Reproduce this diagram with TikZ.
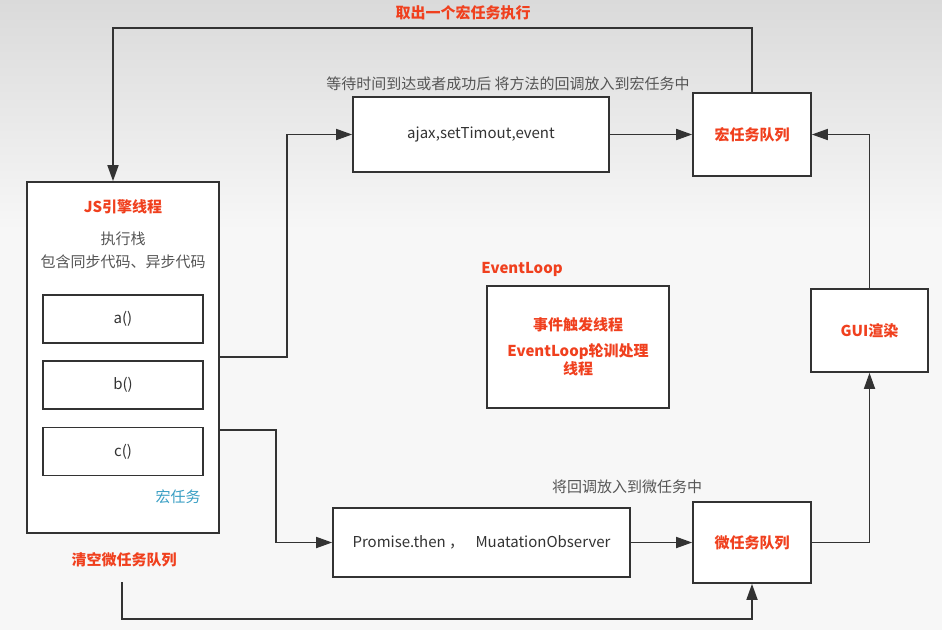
\documentclass[tikz,border=0pt]{standalone}
\usepackage{fontspec}
\usepackage{tikz}
\usetikzlibrary{arrows.meta}
\usepackage{xcolor}
\newfontfamily\cjk{Noto Sans CJK SC}

\definecolor{linegray}{HTML}{333333}
\definecolor{textgray}{HTML}{555555}
\definecolor{hotred}{HTML}{F0401E}
\definecolor{tealblue}{HTML}{3A9FC4}

\begin{document}
\begin{tikzpicture}[x=1pt, y=-1pt]
        % ================= 样式定义 =================
        \tikzset{
            every node/.style={font=\cjk\fontsize{15pt}{18pt}\selectfont},
            % 方框
            box/.style={rectangle, draw=linegray, line width=1.7pt, fill=white, inner sep=0pt, text=linegray},
            % 红色标题文字
            redtxt/.style={text=hotred, font=\cjk\bfseries\fontsize{15pt}{18pt}\selectfont},
            % 灰色说明文字
            graytxt/.style={text=textgray},
            % 连线
            conn/.style={line width=1.7pt, draw=linegray, -{Triangle[length=16pt, width=11pt]}}
        }

        % ================= 背景 =================
        \fill[color={rgb,255:red,247;green,247;blue,247}] (0,0) rectangle (942,630);
        \shade[top color={rgb,255:red,218;green,218;blue,218}, bottom color={rgb,255:red,247;green,247;blue,247}] (0,0) rectangle (942,230);
        \useasboundingbox (0,0) rectangle (942,630);

        % ================= 左侧:JS引擎线程 =================
        \node[box, minimum width=192pt, minimum height=351pt] (js) at (123,357.5) {};
        \node[redtxt] (jstitle) at (123,207) {JS引擎线程};
        \node[graytxt] (stack) at (123,239) {执行栈};
        \node[graytxt] (stackdesc) at (123,262) {包含同步代码、异步代码};
        \node[box, minimum width=160pt, minimum height=48pt] (fa) at (123,319) {a()};
        \node[box, minimum width=160pt, minimum height=48pt] (fb) at (123,385) {b()};
        \node[box, minimum width=160pt, minimum height=48pt] (fc) at (123,451.5) {c()};
        \node[text=tealblue] (macrotag) at (178,497) {宏任务};
        \node[redtxt] (clear) at (124,560) {清空微任务队列};

        % ================= 中间:异步任务 =================
        \node[graytxt] (waitnote) at (508,84) {等待时间到达或者成功后 将方法的回调放入到宏任务中};
        \node[box, minimum width=256pt, minimum height=75pt] (ajax) at (481,134.5) {ajax,setTimout,event};
        \node[redtxt] (eltitle) at (522,269) {EventLoop};
        \node[box, redtxt, align=center, minimum width=182pt, minimum height=122pt] (loop) at (578,347)
            {事件触发线程\\[8pt]EventLoop轮训处理\\线程};
        \node[graytxt] (micronote) at (627,487) {将回调放入到微任务中};
        \node[box, minimum width=297pt, minimum height=69pt] (promise) at (481.5,542.5)
            {Promise.then ，\hspace{8pt} MuatationObserver};

        % ================= 右侧:队列与渲染 =================
        \node[box, redtxt, minimum width=118pt, minimum height=83pt] (macro) at (752,134.5) {宏任务队列};
        \node[box, redtxt, minimum width=117pt, minimum height=83pt] (gui) at (869.5,330.5) {GUI渲染};
        \node[box, redtxt, minimum width=118pt, minimum height=81pt] (micro) at (752,542.5) {微任务队列};
        \node[redtxt] (takeone) at (463,13) {取出一个宏任务执行};

        % ================= 连线 =================
        \coordinate (topleft) at (113,28);
        \coordinate (clearout) at (122,582);

        % 宏任务队列 -> JS引擎线程
        \draw[conn] (macro.north) |- (topleft) -- (topleft |- js.north);
        % JS引擎线程 -> 异步任务
        \draw[conn] (js.east |- 0,357) -- (287,357) |- (ajax.west);
        \draw[conn] (js.east |- 0,430) -- (276,430) |- (promise.west);
        % 放入队列
        \draw[conn] (ajax.east) -- (macro.west);
        \draw[conn] (promise.east) -- (micro.west);
        % 微任务队列 -> GUI渲染 -> 宏任务队列
        \draw[conn] (micro.east) -| (gui.south);
        \draw[conn] (gui.north) |- (macro.east);
        % 清空微任务队列
        \draw[conn] (clearout) -- (122,619) -| (micro.south);

    \end{tikzpicture}
\end{document}
